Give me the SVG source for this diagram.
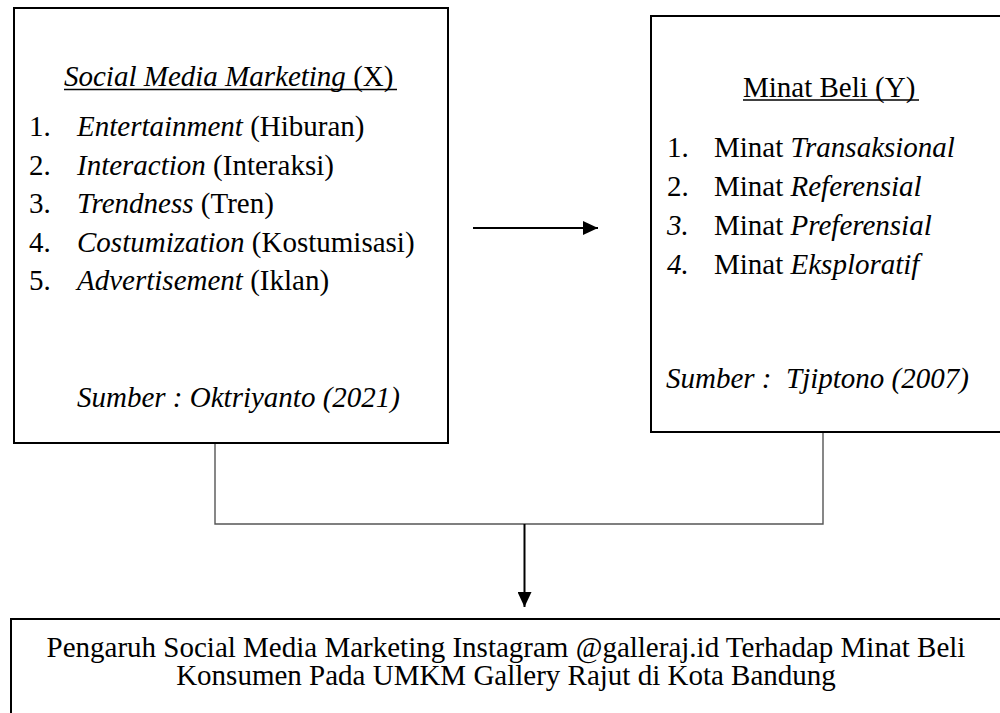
<svg xmlns="http://www.w3.org/2000/svg" width="1000" height="713" viewBox="0 0 1000 713">
<style>
.box{fill:#fff;stroke:#000;stroke-width:2}
.t{font-family:"Liberation Serif","Times New Roman",serif;font-size:29px;fill:#000}
.i{font-style:italic}
.ul{stroke:#000;stroke-width:1.4}
.conn{fill:none;stroke:#555;stroke-width:1.4}
.arr{fill:none;stroke:#000;stroke-width:2}
</style>
<defs>
<marker id="ah" viewBox="0 0 15 14" refX="15" refY="7" markerWidth="15" markerHeight="14" markerUnits="userSpaceOnUse" orient="auto">
<path d="M0,0 L15,7 L0,14 z" fill="#000"/>
</marker>
</defs>
<rect width="1000" height="713" fill="#fff"/>

<g id="connectors">
<polyline class="conn" points="215,443 215,524 823,524 823,432"/>
<line class="arr" x1="473" y1="228" x2="598" y2="228" marker-end="url(#ah)"/>
<line class="arr" x1="524.5" y1="524" x2="524.5" y2="607" marker-end="url(#ah)"/>
</g>

<g id="node-x">
<rect class="box" x="14" y="8" width="434" height="435"/>
<text class="t" x="64" y="86"><tspan class="i">Social Media Marketing</tspan> (X)</text>
<line class="ul" x1="64" y1="89.5" x2="397" y2="89.5"/>
<text class="t" y="136"><tspan x="29">1.</tspan><tspan x="77" class="i">Entertainment</tspan> (Hiburan)</text>
<text class="t" y="174.5"><tspan x="29">2.</tspan><tspan x="77" class="i">Interaction</tspan> (Interaksi)</text>
<text class="t" y="213"><tspan x="29">3.</tspan><tspan x="77" class="i">Trendness</tspan> (Tren)</text>
<text class="t" y="251.5"><tspan x="29">4.</tspan><tspan x="77" class="i">Costumization</tspan> (Kostumisasi)</text>
<text class="t" y="290"><tspan x="29">5.</tspan><tspan x="77" class="i">Advertisement</tspan> (Iklan)</text>
<text class="t i" x="77" y="407">Sumber : Oktriyanto (2021)</text>
</g>

<g id="node-y">
<rect class="box" x="651" y="16" width="360" height="416"/>
<text class="t" x="743" y="96.5">Minat Beli (Y)</text>
<line class="ul" x1="743" y1="100" x2="919" y2="100"/>
<text class="t" y="156.5"><tspan x="667">1.</tspan><tspan x="714">Minat </tspan><tspan class="i">Transaksional</tspan></text>
<text class="t" y="195.5"><tspan x="667">2.</tspan><tspan x="714">Minat </tspan><tspan class="i">Referensial</tspan></text>
<text class="t" y="234.5"><tspan x="667" class="i">3.</tspan><tspan x="714">Minat </tspan><tspan class="i">Preferensial</tspan></text>
<text class="t" y="273.5"><tspan x="667" class="i">4.</tspan><tspan x="714">Minat </tspan><tspan class="i">Eksploratif</tspan></text>
<text class="t i" x="666" y="388" xml:space="preserve">Sumber :  Tjiptono (2007)</text>
</g>

<g id="node-result">
<rect class="box" x="11" y="619" width="1000" height="110"/>
<text class="t" x="506" y="657" text-anchor="middle">Pengaruh Social Media Marketing Instagram @galleraj.id Terhadap Minat Beli</text>
<text class="t" x="506" y="684.5" text-anchor="middle">Konsumen Pada UMKM Gallery Rajut di Kota Bandung</text>
</g>
</svg>
